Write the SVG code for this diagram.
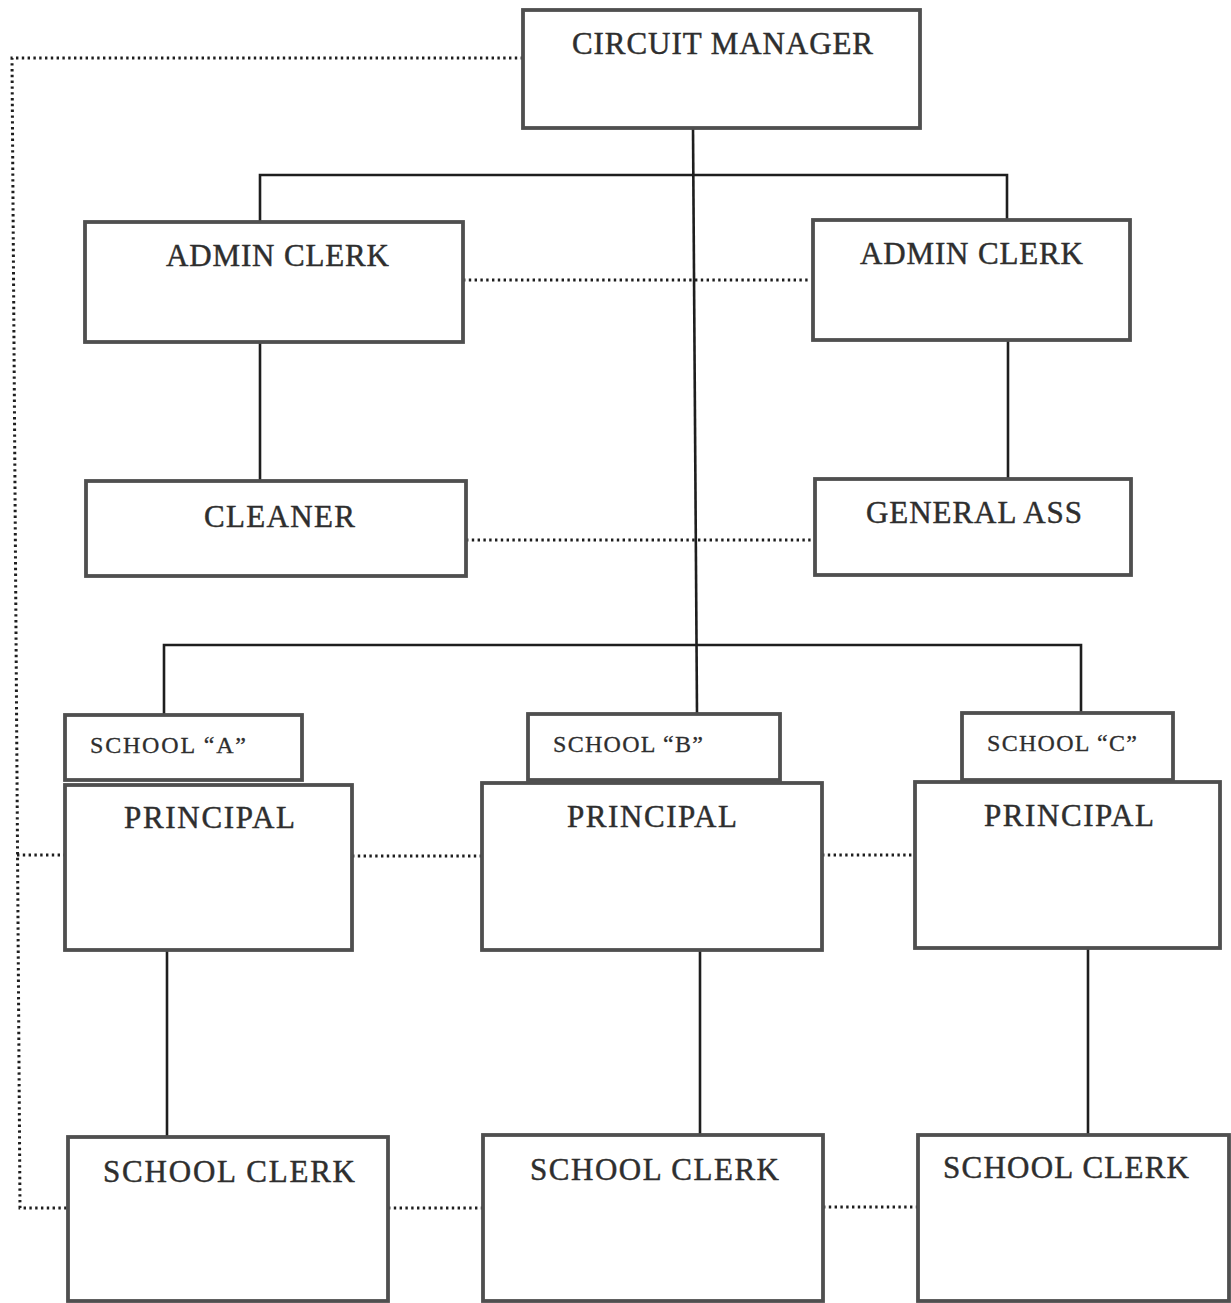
<svg xmlns="http://www.w3.org/2000/svg" width="1231" height="1303" viewBox="0 0 1231 1303">
  <style>
    .box { fill: #ffffff; stroke: #4f4f4f; stroke-width: 3.8; }
    .lbl { font-family: "Liberation Serif", "Times New Roman", serif; font-size: 31px; fill: #2e2e2e; stroke: #2e2e2e; stroke-width: 0.45; }
    .sm { font-size: 24px; stroke-width: 0.3; }
    .solid { fill: none; stroke: #1e1e1e; stroke-width: 2.6; }
    .dot { fill: none; stroke: #1e1e1e; stroke-width: 3; stroke-dasharray: 2.4 3.4; }
  </style>
  <rect width="1231" height="1303" fill="#ffffff"/>

  <g id="connectors">
    <!-- reporting lines -->
    <path class="solid" d="M693 128 L697 714"/>
    <path class="solid" d="M260 222 L260 175 L1007 175 L1007 220"/>
    <path class="solid" d="M260 342 L260 481"/>
    <path class="solid" d="M1008 340 L1008 479"/>
    <path class="solid" d="M164 717 L164 645 L1081 645 L1081 713"/>
    <path class="solid" d="M167 950 L167 1137"/>
    <path class="solid" d="M700 950 L700 1135"/>
    <path class="solid" d="M1088 948 L1088 1135"/>
    <!-- liaison lines -->
    <path class="dot" d="M523 58 L12 58 L20 1208 L68 1208"/>
    <path class="dot" d="M17 855 L65 855"/>
    <path class="dot" d="M463 280 L811 280"/>
    <path class="dot" d="M466 540 L815 540"/>
    <path class="dot" d="M352 856 L482 856"/>
    <path class="dot" d="M822 855 L915 855"/>
    <path class="dot" d="M388 1208 L483 1208"/>
    <path class="dot" d="M823 1207 L918 1207"/>
  </g>

  <g id="circuit-manager">
    <rect class="box" x="523" y="10" width="397" height="118"/>
    <text class="lbl" x="572" y="54" textLength="301" lengthAdjust="spacing">CIRCUIT MANAGER</text>
  </g>

  <g id="admin-clerk-left">
    <rect class="box" x="85" y="222" width="378" height="120"/>
    <text class="lbl" x="166" y="266" textLength="223" lengthAdjust="spacing">ADMIN CLERK</text>
  </g>

  <g id="admin-clerk-right">
    <rect class="box" x="813" y="220" width="317" height="120"/>
    <text class="lbl" x="860" y="264" textLength="223" lengthAdjust="spacing">ADMIN CLERK</text>
  </g>

  <g id="cleaner">
    <rect class="box" x="86" y="481" width="380" height="95"/>
    <text class="lbl" x="204" y="527" textLength="151" lengthAdjust="spacing">CLEANER</text>
  </g>

  <g id="general-ass">
    <rect class="box" x="815" y="479" width="316" height="96"/>
    <text class="lbl" x="866" y="523" textLength="216" lengthAdjust="spacing">GENERAL ASS</text>
  </g>

  <g id="school-a">
    <rect class="box" x="65" y="715" width="237" height="65"/>
    <text class="lbl sm" x="90" y="753" textLength="156" lengthAdjust="spacing">SCHOOL “A”</text>
  </g>

  <g id="principal-a">
    <rect class="box" x="65" y="785" width="287" height="165"/>
    <text class="lbl" x="124" y="828" textLength="171" lengthAdjust="spacing">PRINCIPAL</text>
  </g>

  <g id="school-b">
    <rect class="box" x="528" y="714" width="252" height="66"/>
    <text class="lbl sm" x="553" y="752" textLength="150" lengthAdjust="spacing">SCHOOL “B”</text>
  </g>

  <g id="principal-b">
    <rect class="box" x="482" y="783" width="340" height="167"/>
    <text class="lbl" x="567" y="827" textLength="170" lengthAdjust="spacing">PRINCIPAL</text>
  </g>

  <g id="school-c">
    <rect class="box" x="962" y="713" width="211" height="67"/>
    <text class="lbl sm" x="987" y="751" textLength="150" lengthAdjust="spacing">SCHOOL “C”</text>
  </g>

  <g id="principal-c">
    <rect class="box" x="915" y="782" width="305" height="166"/>
    <text class="lbl" x="984" y="826" textLength="170" lengthAdjust="spacing">PRINCIPAL</text>
  </g>

  <g id="school-clerk-a">
    <rect class="box" x="68" y="1137" width="320" height="164"/>
    <text class="lbl" x="103" y="1182" textLength="252" lengthAdjust="spacing">SCHOOL CLERK</text>
  </g>

  <g id="school-clerk-b">
    <rect class="box" x="483" y="1135" width="340" height="166"/>
    <text class="lbl" x="530" y="1180" textLength="249" lengthAdjust="spacing">SCHOOL CLERK</text>
  </g>

  <g id="school-clerk-c">
    <rect class="box" x="918" y="1135" width="311" height="166"/>
    <text class="lbl" x="943" y="1178" textLength="246" lengthAdjust="spacing">SCHOOL CLERK</text>
  </g>
</svg>
